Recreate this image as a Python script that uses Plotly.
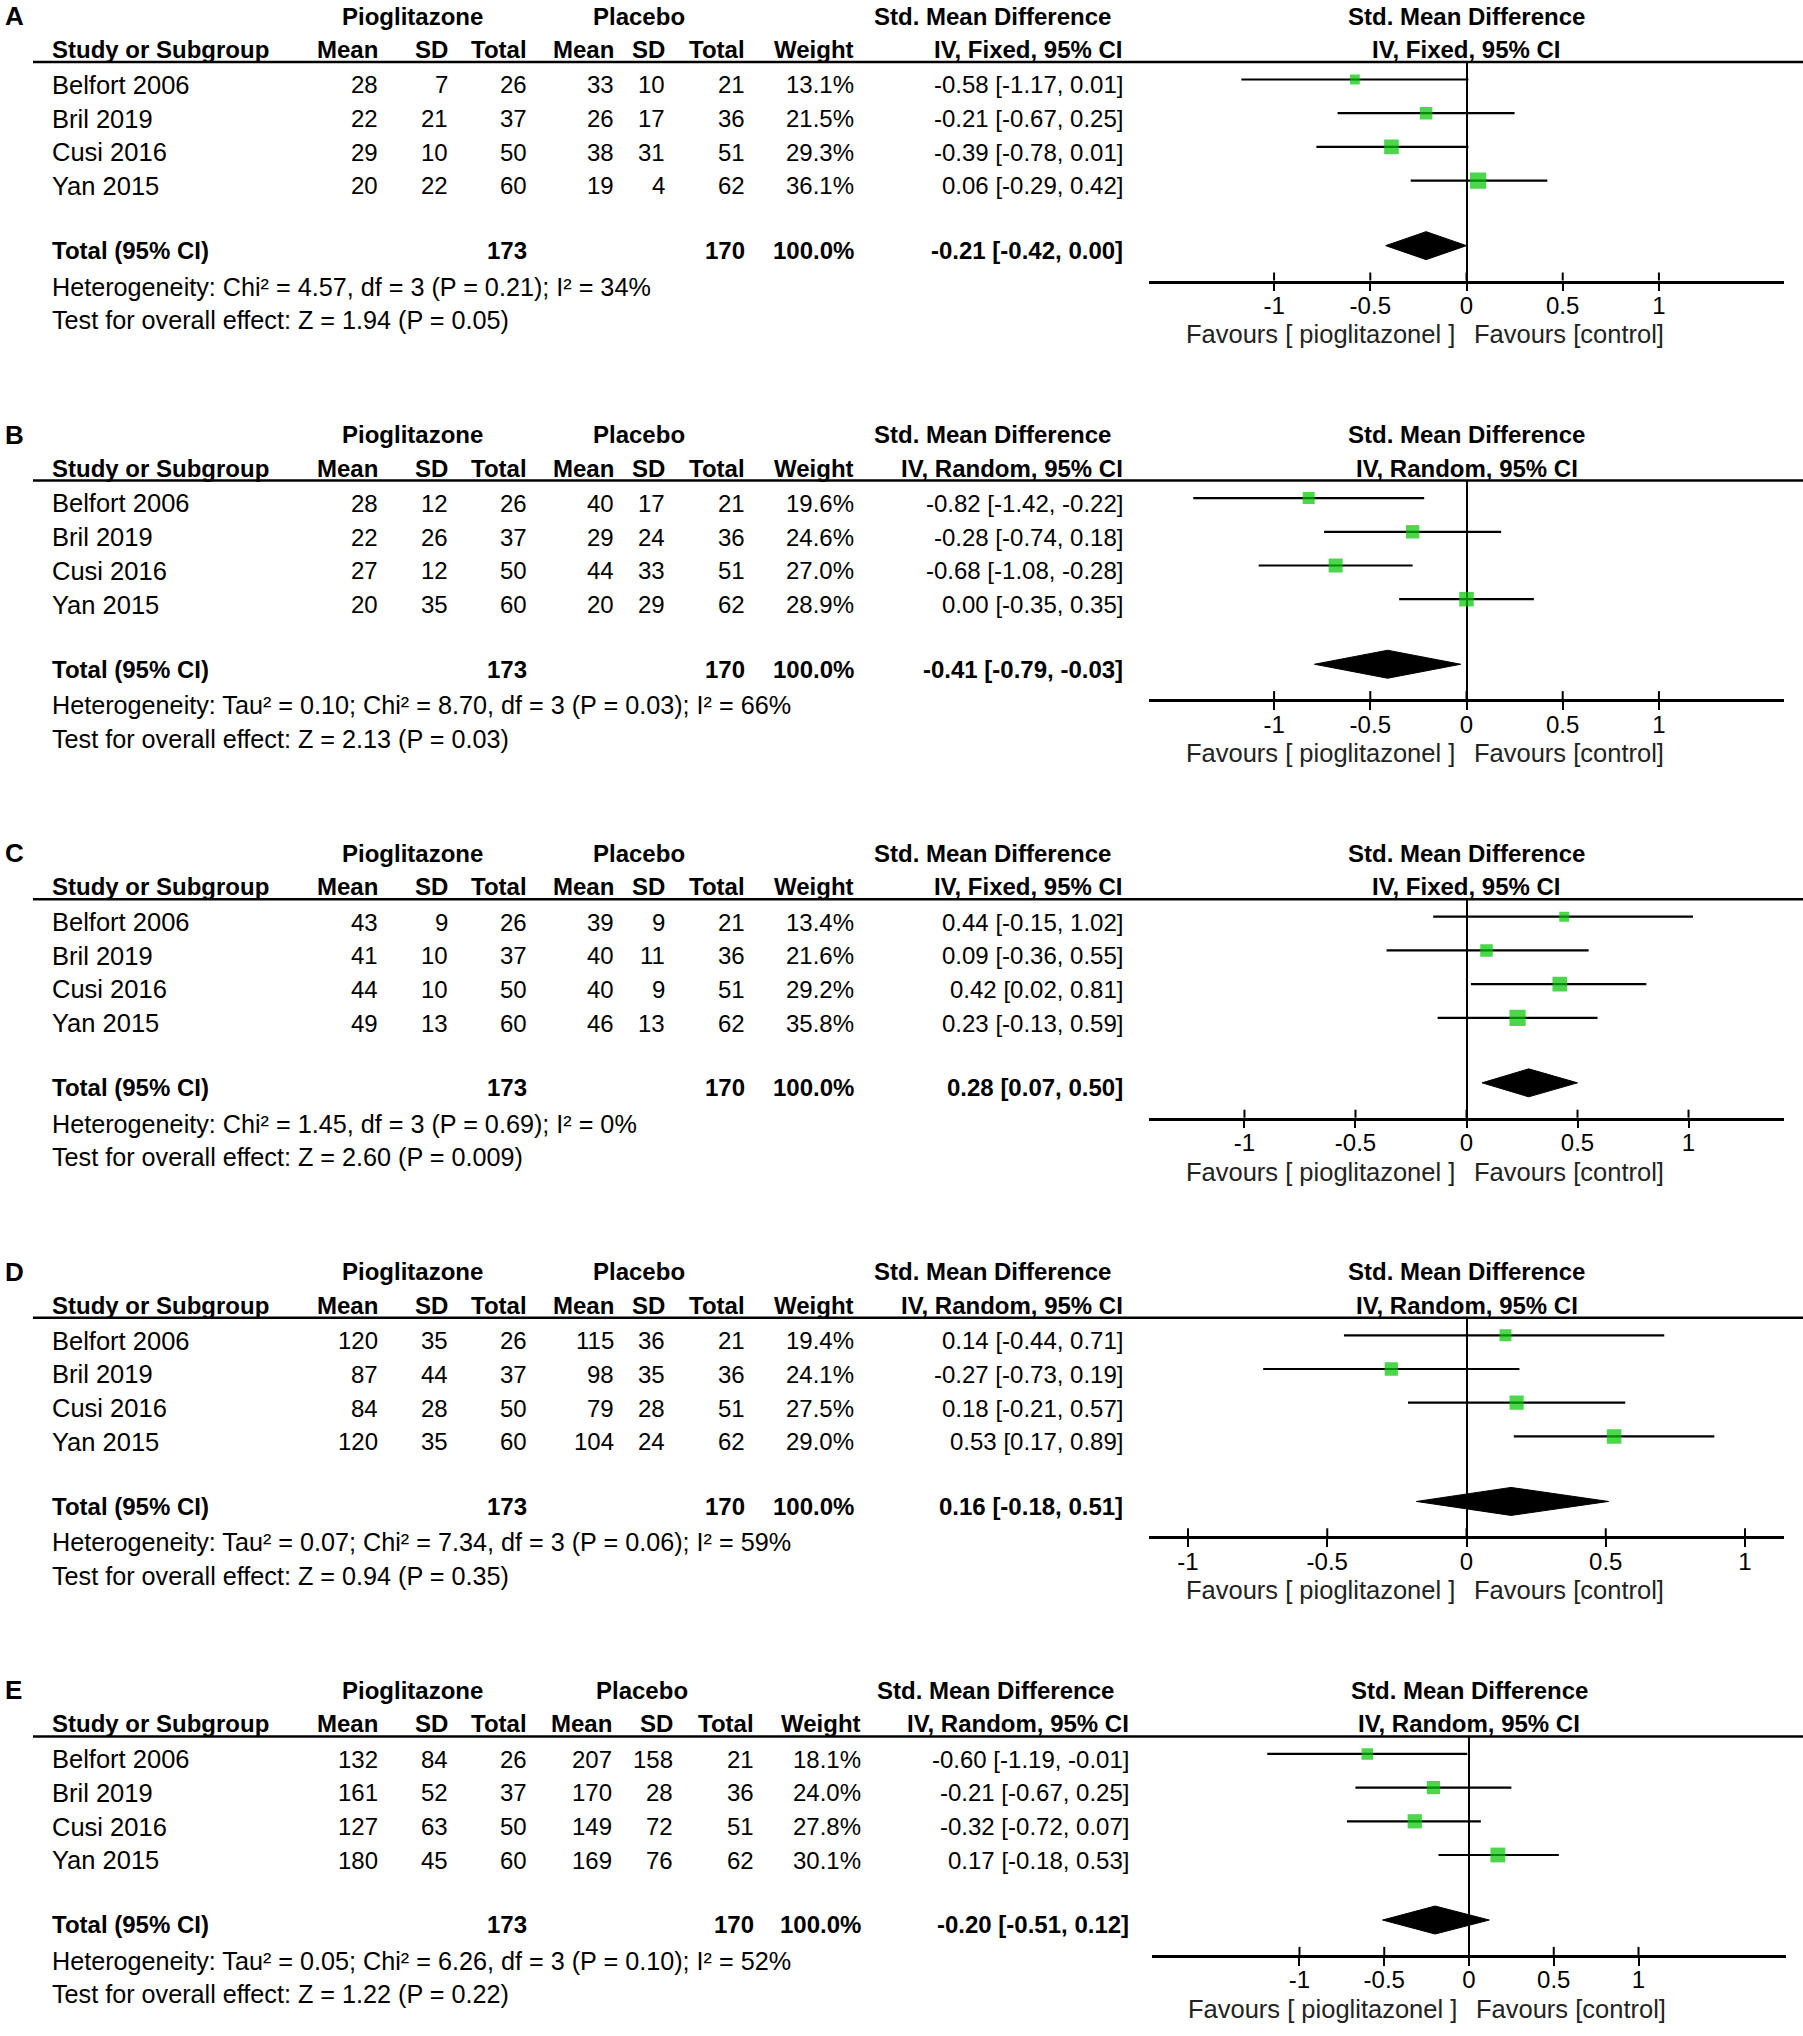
import plotly.graph_objects as go

W, H = 1803, 2036
FONT = "Liberation Sans, Arial, Helvetica, sans-serif"

# ---------------- data ----------------
panel_labels = ["A", "B", "C", "D", "E"]
methods = ["IV, Fixed, 95% CI", "IV, Random, 95% CI", "IV, Fixed, 95% CI",
           "IV, Random, 95% CI", "IV, Random, 95% CI"]
studies = ["Belfort 2006", "Bril 2019", "Cusi 2016", "Yan 2015"]

pio_mean = [[28, 22, 29, 20], [28, 22, 27, 20], [43, 41, 44, 49],
            [120, 87, 84, 120], [132, 161, 127, 180]]
pio_sd = [[7, 21, 10, 22], [12, 26, 12, 35], [9, 10, 10, 13],
          [35, 44, 28, 35], [84, 52, 63, 45]]
pio_n = [26, 37, 50, 60]
pla_mean = [[33, 26, 38, 19], [40, 29, 44, 20], [39, 40, 40, 46],
            [115, 98, 79, 104], [207, 170, 149, 169]]
pla_sd = [[10, 17, 31, 4], [17, 24, 33, 29], [9, 11, 9, 13],
          [36, 35, 28, 24], [158, 28, 72, 76]]
pla_n = [21, 36, 51, 62]
weights = [[13.1, 21.5, 29.3, 36.1], [19.6, 24.6, 27.0, 28.9],
           [13.4, 21.6, 29.2, 35.8], [19.4, 24.1, 27.5, 29.0],
           [18.1, 24.0, 27.8, 30.1]]
smd = [[-0.58, -0.21, -0.39, 0.06], [-0.82, -0.28, -0.68, 0.00],
       [0.44, 0.09, 0.42, 0.23], [0.14, -0.27, 0.18, 0.53],
       [-0.60, -0.21, -0.32, 0.17]]
ci_lo = [[-1.17, -0.67, -0.78, -0.29], [-1.42, -0.74, -1.08, -0.35],
         [-0.15, -0.36, 0.02, -0.13], [-0.44, -0.73, -0.21, 0.17],
         [-1.19, -0.67, -0.72, -0.18]]
ci_hi = [[0.01, 0.25, 0.01, 0.42], [-0.22, 0.18, -0.28, 0.35],
         [1.02, 0.55, 0.81, 0.59], [0.71, 0.19, 0.57, 0.89],
         [-0.01, 0.25, 0.07, 0.53]]
total_pio = 173
total_pla = 170
total_smd = [-0.21, -0.41, 0.28, 0.16, -0.20]
total_lo = [-0.42, -0.79, 0.07, -0.18, -0.51]
total_hi = [0.00, -0.03, 0.50, 0.51, 0.12]
heterogeneity = [
    "Heterogeneity: Chi² = 4.57, df = 3 (P = 0.21); I² = 34%",
    "Heterogeneity: Tau² = 0.10; Chi² = 8.70, df = 3 (P = 0.03); I² = 66%",
    "Heterogeneity: Chi² = 1.45, df = 3 (P = 0.69); I² = 0%",
    "Heterogeneity: Tau² = 0.07; Chi² = 7.34, df = 3 (P = 0.06); I² = 59%",
    "Heterogeneity: Tau² = 0.05; Chi² = 6.26, df = 3 (P = 0.10); I² = 52%",
]
overall = [
    "Test for overall effect: Z = 1.94 (P = 0.05)",
    "Test for overall effect: Z = 2.13 (P = 0.03)",
    "Test for overall effect: Z = 2.60 (P = 0.009)",
    "Test for overall effect: Z = 0.94 (P = 0.35)",
    "Test for overall effect: Z = 1.22 (P = 0.22)",
]
tick_vals = [-1, -0.5, 0, 0.5, 1]
tick_text = ["-1", "-0.5", "0", "0.5", "1"]
col_headers = ["Mean", "SD", "Total", "Mean", "SD", "Total", "Weight"]
fav_left = "Favours [ pioglitazonel ]"
fav_right = "Favours [control]"

# ---------------- layout constants (pixels) ----------------
axis_half = [1.65, 1.65, 1.43, 1.14, 1.87]
PANEL_DY = 418.6
Y_HDR1, Y_HDR2, Y_HLINE = 16, 49.5, 62
Y_ROW0, ROW_DY, MARK_UP = 84.8, 33.7, 5.3
Y_TOTAL, TOTAL_ROW = 250.5, 4.93
Y_HET, Y_TEST, Y_AXIS, Y_FAV = 286.5, 320, 280.5, 334.5
X_STUDY = 50
col_right = [380, 450, 529, 616, 667, 747, 856, 1125]
col_shift_E = [0, 0, 0, -2, 8, 9, 7, 6]
X_PIO, X_PLA, X_SMD = 412.5, 639, 991
FOREST_X = [(1149, 1784)] * 4 + [(1152, 1786)]
GREEN = "#00C400"
FS = 24        # numbers and bold headers
FS_TXT = 25.5  # study names
FS_NOTE = 25.2  # heterogeneity / overall effect lines
FS_FAV = 25.5


def py(px):
    return 1 - px / H


def txt(x, y, s, anchor="left", bold=False, size=FS, color="black"):
    return dict(x=x / W, y=py(y), xref="paper", yref="paper",
                text=f"<b>{s}</b>" if bold else s, showarrow=False,
                xanchor=anchor, yanchor="middle",
                font=dict(family=FONT, size=size, color=color))


fig = go.Figure()
annotations, shapes = [], []
y_mark0 = Y_ROW0 - MARK_UP

for p in range(5):
    off = p * PANEL_DY
    k = p + 1
    xa = "x" if k == 1 else f"x{k}"
    ya = "y" if k == 1 else f"y{k}"
    R = axis_half[p]
    fx0, fx1 = FOREST_X[p]
    zero_px = (fx0 + fx1) / 2
    cr = [c + (col_shift_E[i] if p == 4 else 0) for i, c in enumerate(col_right)]
    dx = 3 if p == 4 else 0

    # axes
    fig.layout[("xaxis" if k == 1 else f"xaxis{k}")] = dict(
        domain=[fx0 / W, fx1 / W], range=[-R, R], anchor=ya,
        showline=True, linecolor="black", linewidth=2.5,
        ticks="outside", ticklen=8, tickwidth=2, tickcolor="black",
        ticklabelstandoff=-6,
        tickvals=tick_vals, ticktext=tick_text,
        tickfont=dict(family=FONT, size=FS, color="black"),
        zeroline=True, zerolinecolor="black", zerolinewidth=2,
        showgrid=False, fixedrange=True)
    top_val = (Y_HLINE - y_mark0) / ROW_DY
    bot_val = (Y_AXIS - y_mark0) / ROW_DY
    fig.layout[("yaxis" if k == 1 else f"yaxis{k}")] = dict(
        domain=[py(off + Y_AXIS), py(off + Y_HLINE)], range=[bot_val, top_val],
        anchor=xa, visible=False, fixedrange=True)

    # upper halves of ticks
    for tv in tick_vals:
        shapes.append(dict(type="line", xref=xa, yref="paper", x0=tv, x1=tv,
                           y0=py(off + Y_AXIS), y1=py(off + Y_AXIS - 8),
                           line=dict(color="black", width=2)))
    # header line
    shapes.append(dict(type="line", xref="paper", yref="paper", x0=33 / W, x1=1,
                       y0=py(off + Y_HLINE), y1=py(off + Y_HLINE),
                       line=dict(color="black", width=2.5)))

    # CI lines
    xs, ys = [], []
    for i in range(4):
        xs += [ci_lo[p][i], ci_hi[p][i], None]
        ys += [i, i, None]
    fig.add_trace(go.Scatter(x=xs, y=ys, xaxis=xa, yaxis=ya, mode="lines",
                             line=dict(color="black", width=2.2),
                             hoverinfo="skip", showlegend=False))
    # study markers
    fig.add_trace(go.Scatter(x=smd[p], y=list(range(4)), xaxis=xa, yaxis=ya,
                             mode="markers",
                             marker=dict(symbol="square", color=GREEN,
                                         size=[2.7 * w ** 0.5 for w in weights[p]],
                                         line=dict(width=0)),
                             showlegend=False))
    # diamond
    h = 14 / ROW_DY
    fig.add_trace(go.Scatter(
        x=[total_lo[p], total_smd[p], total_hi[p], total_smd[p], total_lo[p]],
        y=[TOTAL_ROW, TOTAL_ROW - h, TOTAL_ROW, TOTAL_ROW + h, TOTAL_ROW],
        xaxis=xa, yaxis=ya, mode="lines", fill="toself", fillcolor="black",
        line=dict(color="black", width=1), showlegend=False))

    # panel letter and headers
    annotations.append(txt(3, off + Y_HDR1, panel_labels[p], bold=True, size=26))
    annotations.append(txt(X_PIO, off + Y_HDR1, "Pioglitazone", "center", True))
    annotations.append(txt(X_PLA + dx, off + Y_HDR1, "Placebo", "center", True))
    annotations.append(txt(X_SMD + dx + 2, off + Y_HDR1, "Std. Mean Difference", "center", True))
    annotations.append(txt(zero_px, off + Y_HDR1, "Std. Mean Difference", "center", True))
    annotations.append(txt(X_STUDY, off + Y_HDR2, "Study or Subgroup", "left", True))
    for j, hname in enumerate(col_headers):
        annotations.append(txt(cr[j], off + Y_HDR2, hname, "right", True))
    annotations.append(txt(cr[7], off + Y_HDR2, methods[p], "right", True))
    annotations.append(txt(zero_px, off + Y_HDR2, methods[p], "center", True))

    # study rows
    for i, s in enumerate(studies):
        yy = off + Y_ROW0 + i * ROW_DY
        vals = [pio_mean[p][i], pio_sd[p][i], pio_n[i],
                pla_mean[p][i], pla_sd[p][i], pla_n[i]]
        annotations.append(txt(X_STUDY, yy, s, size=FS_TXT))
        for j, v in enumerate(vals):
            annotations.append(txt(cr[j], yy, str(v), "right"))
        annotations.append(txt(cr[6], yy, f"{weights[p][i]:.1f}%", "right"))
        annotations.append(txt(cr[7], yy,
                               f"{smd[p][i]:.2f} [{ci_lo[p][i]:.2f}, {ci_hi[p][i]:.2f}]",
                               "right"))

    # total row
    yy = off + Y_TOTAL
    annotations.append(txt(X_STUDY, yy, "Total (95% CI)", "left", True))
    annotations.append(txt(cr[2], yy, str(total_pio), "right", True))
    annotations.append(txt(cr[5], yy, str(total_pla), "right", True))
    annotations.append(txt(cr[6], yy, "100.0%", "right", True))
    annotations.append(txt(cr[7], yy,
                           f"{total_smd[p]:.2f} [{total_lo[p]:.2f}, {total_hi[p]:.2f}]",
                           "right", True))
    annotations.append(txt(X_STUDY, off + Y_HET, heterogeneity[p], size=FS_NOTE))
    annotations.append(txt(X_STUDY, off + Y_TEST, overall[p], size=FS_NOTE))

    # favours labels
    annotations.append(txt(zero_px - 10, off + Y_FAV, fav_left, "right",
                           size=FS_FAV, color="#222222"))
    annotations.append(txt(zero_px + 5, off + Y_FAV, fav_right, "left",
                           size=FS_FAV, color="#222222"))

fig.update_layout(width=W, height=H, margin=dict(l=0, r=0, t=0, b=0),
                  paper_bgcolor="white", plot_bgcolor="rgba(0,0,0,0)",
                  annotations=annotations, shapes=shapes, showlegend=False,
                  font=dict(family=FONT, size=FS, color="black"))

fig.write_html("out.html", config={"displayModeBar": False},
               post_script="document.body.style.margin='0';")
